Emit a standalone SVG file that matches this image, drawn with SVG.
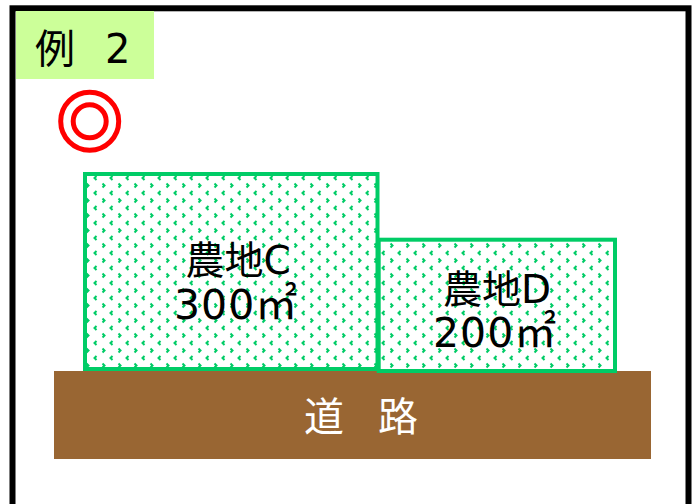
<svg xmlns="http://www.w3.org/2000/svg" width="694" height="504" viewBox="0 0 694 504">
<style>
text{font-family:"DejaVu Sans","Noto Sans CJK JP",sans-serif;font-size:39px;fill:#000}
.big{font-size:40px}
.num{font-size:41px;letter-spacing:1px}
.unit{font-size:42px}
.plot{fill:url(#dots);stroke:#00cc66;stroke-width:4}
</style>
<defs>
<pattern id="dots" patternUnits="userSpaceOnUse" x="87" y="171" width="16" height="15">
<rect width="16" height="15" fill="#fff"/>
<path d="M9.5 5 L7.5 7 L9.5 9 M15.5 12.5 L17.5 14.5 L15.5 16.5 M-0.5 12.5 L1.5 14.5 L-0.5 16.5 M15.5 -2.5 L17.5 -0.5 L15.5 1.5 M-0.5 -2.5 L1.5 -0.5 L-0.5 1.5" fill="none" stroke="#00cc66" stroke-width="2"/>
</pattern>
</defs>
<rect x="12.5" y="8.3" width="676" height="510" fill="#fff" stroke="#000" stroke-width="6"/>
<g id="label"><rect x="16" y="11" width="138" height="68" fill="#ccff99"/><text class="big" x="35" y="63">例 <tspan x="105">2</tspan></text></g>
<g id="mark" fill="none" stroke="#f00" stroke-width="5"><circle cx="89.7" cy="121.3" r="29"/><circle cx="89.7" cy="121.3" r="16.5"/></g>
<g id="road"><rect x="54" y="371" width="597" height="88" fill="#996633"/><text class="big" x="304" y="431" style="fill:#fff">道 <tspan x="378">路</tspan></text></g>
<g id="plotC"><rect class="plot" x="85" y="174" width="292.5" height="195"/><text x="185.5" y="274">農地C</text><text class="num" x="174" y="319">300<tspan class="unit">㎡</tspan></text></g>
<g id="plotD"><rect class="plot" x="378.7" y="239.7" width="236.3" height="131.3"/><text x="443" y="303">農地D</text><text class="num" x="433" y="347">200<tspan class="unit">㎡</tspan></text></g>
<g id="connectors"/>
</svg>
